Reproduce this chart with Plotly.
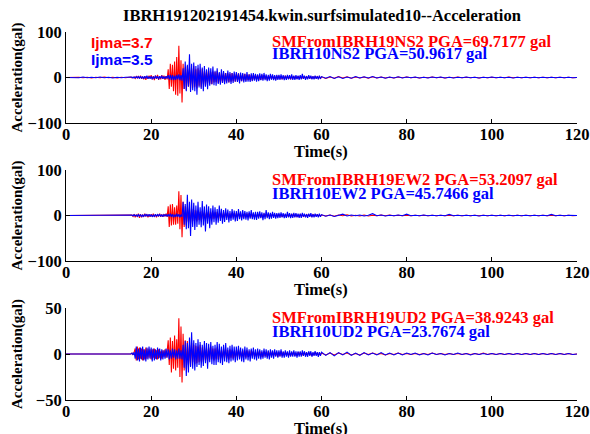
import numpy as np
import plotly.graph_objects as go

# ---------------- data (gal) ----------------
TITLE = "IBRH191202191454.kwin.surfsimulated10--Acceleration"
X_TICKS = [0, 20, 40, 60, 80, 100, 120]

# sampling grids (s): pre-event 0..14 every 1 s, main 15..59.75 every 0.25 s, tail 60..120 every 1 s
PRE_START, PRE_STEP = 0.0, 1.0
MAIN_START, MAIN_STEP = 15.0, 0.25
TAIL_START, TAIL_STEP = 60.0, 1.0

ns_red_pre = [0, 0.5, -0.5, 0.5, -0.5, 0.5, -1, 0.5, -0.5, 1, -0.5, 0.5, -1, 0.5, -0.5]
ns_red_main = [
    0, 1, -1, 0, 1, -2, 2, -1, 3, -2, 4, -3, 2, -4, 3, -5, 2, -3, 4, -2,
    5, -4, 3, -6, 4, -3, 6, -5, 3, -4, 5, -3, 4, -5, 3, -4, 18, -25, 30, -20,
    28, -30, 35, -38, 45, -40, 69.7, -35, 38, -55, 30, -25, 22, -28, 25, -20, 18, -24, 20, -22,
    25, -20, 18, -24, 20, -18, 16, -22, 19, -15, 14, -18, 16, -12, 15, -14, 12, -15, 13, -11,
    12, -10, 14, -12, 10, -11, 9, -12, 11, -9, 10, -8, 9, -11, 8, -9, 10, -8, 7, -9,
    8, -7, 9, -8, 6, -8, 7, -6, 8, -7, 6, -5, 7, -6, 5, -7, 6, -5, 6, -4,
    5, -6, 4, -5, 6, -4, 5, -3, 4, -5, 3, -4, 5, -3, 4, -4, 3, -5, 4, -3,
    4, -3, 3, -4, 2, -3, 4, -2, 3, -3, 2, -4, 3, -2, 3, -3, 2, -3, 3, -2,
    3, -2, 2, -3, 3, -2, 2, -2, 3, -2, 2, -3, 2, -2, 3, -2, 2, -2, 2, -2,
]
ns_red_tail = [
    1.5, -2, 1, -1.5, 2, -1, 1.5, -1.5, 1, -1, 1, -1.5, 1.5, -1, 1, -1, 0.5, -1, 1, -0.5,
    1, -0.5, 0.5, -1, 0.5, -0.5, 1, -0.5, 0.5, -1, 0.5, -0.5, 1, -0.5, 0.5, -0.5, 0.5, -1, 0.5, -0.5,
    0.5, -0.5, 0.5, -0.5, 1, -0.5, 0.5, -0.5, 0.5, -0.5, 0.5, -0.5, 0.5, -0.5, 0.5, -0.5, 0.5, -0.5, 0.5, -0.5, 0,
]
ns_blue_pre = [0, -0.5, 0.5, -0.5, 1, -0.5, 0.5, -0.5, 1, -0.5, 0.5, -1, 0.5, -0.5, 0.5]
ns_blue_main = [
    0, 0, 1, -1, 1, -1, 2, -1, 2, -2, 3, -2, 2, -3, 3, -2, 4, -3, 2, -3,
    3, -4, 2, -3, 4, -2, 3, -4, 3, -2, 4, -3, 2, -3, 3, -2, 5, -4, 6, -5,
    5, -6, 4, -5, 6, -4, 7, -6, 5, -7, 20, -25, 35, -30, 28, -20, 50.96, -32, 30, -28,
    33, -30, 25, -38, 28, -22, 30, -25, 22, -30, 25, -20, 18, -26, 22, -18, 20, -15, 24, -17,
    15, -18, 20, -14, 12, -16, 18, -12, 14, -15, 10, -13, 15, -11, 12, -14, 10, -12, 13, -9,
    12, -10, 9, -13, 11, -8, 10, -11, 8, -10, 12, -9, 7, -10, 9, -8, 10, -7, 8, -9,
    7, -8, 9, -6, 8, -7, 10, -6, 7, -8, 6, -7, 8, -5, 7, -6, 5, -7, 6, -5,
    6, -5, 7, -4, 5, -6, 4, -5, 6, -4, 5, -4, 7, -5, 4, -5, 5, -4, 4, -5,
    5, -4, 8, -3, 4, -5, 3, -4, 5, -3, 4, -4, 3, -4, 4, -3, 3, -4, 4, -3,
]
ns_blue_tail = [
    2, -1.5, 2, -2, 1.5, -2, 1, -1.5, 2, -1, 1.5, -1, 2, -1, 1, -1.5, 1, -1, 1.5, -1,
    1, -0.5, 1, -1, 0.5, -1, 1, -0.5, 1, -1, 0.5, -1, 0.5, -0.5, 1, -0.5, 0.5, -1, 0.5, -0.5,
    1, -0.5, 0.5, -0.5, 0.5, -1, 0.5, -0.5, 0.5, -0.5, 0.5, -0.5, 0.5, -0.5, 0.5, -0.5, 0.5, -0.5, 0.5, -0.5, 0,
]

ew_red_pre = [0] * 15
ew_red_main = [
    0, 0, 1, -2, 3, -4, 2, -3, 4, -5, 3, -4, 2, -3, 4, -2, 3, -4, 2, -3,
    3, -2, 4, -3, 2, -4, 3, -2, 4, -3, 2, -3, 3, -2, 4, -3, 20, -25, 24, -22,
    25, -20, 18, -20, 22, -18, 53.2, -30, 45, -48, 30, -25, 20, -22, 18, -15, 16, -18, 14, -12,
    12, -10, 11, -13, 9, -10, 8, -11, 10, -8, 7, -9, 8, -7, 9, -6, 7, -8, 6, -7,
    7, -6, 8, -5, 6, -7, 5, -6, 7, -5, 6, -4, 5, -6, 4, -5, 6, -4, 5, -4,
    5, -4, 6, -3, 4, -5, 3, -4, 5, -4, 4, -3, 5, -4, 3, -4, 4, -3, 3, -4,
    4, -3, 3, -4, 2, -3, 4, -2, 3, -3, 2, -3, 4, -2, 3, -2, 2, -3, 3, -2,
    3, -2, 2, -3, 2, -2, 3, -2, 2, -3, 2, -2, 3, -1, 2, -2, 2, -2, 1, -2,
    2, -1, 2, -2, 1, -2, 2, -1, 2, -1, 1, -2, 2, -1, 1, -1, 2, -1, 1, -1,
]
ew_red_tail = [
    1, -1, 1, -1.5, 1, -0.5, 1.5, -1, 0.5, -1, 1, -1, 0.5, -0.5, 1, -0.5, 1, -0.5, 0.5, -0.5,
    0.5, -0.5, 0.5, -0.5, 0.5, -0.5, 0.5, -0.5, 0.5, -0.5, 0.5, -0.5, 0.5, -0.5, 0.5, -0.5, 0.5, -0.5, 0.5, -0.5,
    0.5, -0.5, 0.5, -0.5, 0.5, -0.5, 0.5, -0.5, 0.5, -0.5, 0.5, -0.5, 0.5, -0.5, 0.5, -0.5, 0.5, -0.5, 0.5, -0.5, 0,
]
ew_blue_pre = [0] * 15
ew_blue_main = [
    0, 0, 1, -1, 2, -1, 1, -2, 3, -2, 2, -3, 1, -2, 3, -1, 2, -2, 3, -2,
    2, -3, 1, -2, 3, -2, 2, -1, 3, -2, 2, -3, 2, -1, 2, -2, 3, -2, 4, -3,
    3, -4, 2, -3, 4, -3, 3, -4, 2, -3, 30, -20, 25, -30, 45.75, -28, 30, -45, 35, -25,
    28, -32, 22, -25, 30, -20, 18, -26, 32, -22, 20, -35, 24, -18, 20, -28, 16, -20, 22, -15,
    18, -20, 14, -16, 22, -12, 15, -18, 12, -14, 16, -10, 13, -15, 10, -12, 14, -9, 11, -13,
    10, -12, 14, -8, 9, -11, 12, -8, 10, -9, 8, -11, 9, -7, 12, -8, 7, -9, 8, -10,
    8, -7, 9, -6, 7, -10, 6, -8, 12, -6, 7, -8, 6, -7, 8, -5, 6, -7, 5, -6,
    6, -5, 7, -4, 5, -6, 4, -5, 8, -4, 5, -6, 4, -5, 6, -4, 5, -4, 4, -5,
    4, -5, 6, -3, 4, -4, 3, -5, 4, -3, 5, -4, 3, -4, 4, -3, 3, -4, 4, -3,
]
ew_blue_tail = [
    2, -1.5, 1, -2, 1, 3, -1, 1, -0.5, 1, -1, 0.5, 4, -0.5, 1, -1, 0.5, -0.5, 1, -0.5,
    3, -0.5, 0.5, -0.5, 1, -0.5, 0.5, -0.5, 0.5, -0.5, 2.5, -0.5, 0.5, -0.5, 0.5, -0.5, 0.5, -1, 0.5, -0.5,
    0.5, -0.5, 0.5, -0.5, 0.5, -0.5, 0.5, -0.5, 0.5, -0.5, 0.5, -0.5, 0.5, -0.5, 2.5, -0.5, 0.5, -0.5, 0.5, -0.5, 0,
]

ud_red_pre = [0] * 15
ud_red_main = [
    0, 0, 1, -1, 2, 6, -7, 8, -6, 7, -5, 6, -7, 5, -6, 7, -5, 6, -4, 5,
    -6, 5, -4, 6, -5, 4, -6, 5, -4, 3, -5, 4, -3, 5, -4, 3, 15, -12, 18, -20,
    14, -16, 20, -18, 16, -15, 38.92, -25, 30, -31, 22, -18, 15, -16, 14, -12, 10, -13, 12, -9,
    10, -11, 9, -10, 8, -9, 10, -8, 7, -9, 8, -7, 6, -8, 7, -6, 8, -5, 6, -7,
    6, -5, 7, -6, 5, -6, 4, -5, 6, -4, 5, -5, 4, -6, 5, -4, 4, -5, 3, -4,
    4, -3, 5, -4, 3, -4, 4, -3, 3, -4, 4, -3, 3, -3, 4, -2, 3, -3, 2, -3,
    3, -2, 3, -3, 2, -3, 3, -2, 2, -3, 3, -2, 2, -2, 3, -2, 2, -2, 2, -3,
    2, -2, 3, -2, 2, -2, 2, -1, 2, -2, 1, -2, 2, -1, 2, -2, 1, -2, 2, -1,
    2, -1, 1, -2, 2, -1, 1, -1, 2, -1, 1, -2, 1, -1, 2, -1, 1, -1, 1, -1,
]
ud_red_tail = [
    1, -1, 1, -1, 1, -0.5, 1, -1, 0.5, -1, 1, -0.5, 1, -0.5, 0.5, -1, 0.5, -0.5, 1, -0.5,
    0.5, -0.5, 0.5, -0.5, 0.5, -0.5, 1, -0.5, 0.5, -0.5, 0.5, -0.5, 0.5, -0.5, 0.5, -0.5, 0.5, -0.5, 1, -0.5,
    0.5, -0.5, 0.5, -0.5, 0.5, -0.5, 0.5, -0.5, 0.5, -0.5, 0.5, -0.5, 0.5, -0.5, 0.5, -0.5, 0.5, -0.5, 0.5, -0.5, 0,
]
ud_blue_pre = [0] * 15
ud_blue_main = [
    0, 0, 1, -1, 2, -5, 8, -7, 6, -8, 7, -6, 8, -7, 5, -8, 7, -6, 8, -5,
    7, -8, 6, -7, 5, -6, 7, -5, 6, -7, 5, -6, 4, -5, 6, -4, 5, -6, 4, -5,
    6, -4, 5, -6, 4, -5, 6, -5, 4, -6, 10, -15, 14, -23.77, 12, -20, 18, -14, 23.5, -16,
    15, -18, 12, -14, 16, -12, 13, -15, 10, -13, 14, -10, 12, -16, 11, -9, 13, -11, 9, -12,
    10, -12, 13, -9, 11, -10, 8, -12, 10, -8, 12, -9, 7, -10, 9, -8, 10, -7, 8, -9,
    8, -7, 9, -6, 7, -8, 6, -9, 8, -6, 7, -7, 5, -8, 6, -5, 7, -6, 5, -7,
    6, -5, 5, -6, 4, -5, 6, -4, 5, -5, 4, -6, 5, -4, 4, -5, 5, -3, 4, -4,
    4, -3, 5, -4, 3, -4, 4, -3, 3, -4, 4, -3, 3, -3, 4, -3, 3, -4, 3, -3,
    3, -3, 4, -2, 3, -3, 2, -3, 3, -2, 3, -3, 2, -2, 3, -2, 2, -3, 2, -2,
]
ud_blue_tail = [
    2, -1.5, 1.5, -2, 1.5, -1, 2, -1.5, 1, -1.5, 1.5, -1, 1, -1, 1.5, -1, 1, -1, 1, -1,
    1, -0.5, 1, -1, 0.5, -1, 1, -0.5, 0.5, -1, 0.5, -0.5, 1, -0.5, 0.5, -1, 0.5, -0.5, 0.5, -0.5,
    0.5, -0.5, 0.5, -0.5, 0.5, -0.5, 0.5, -0.5, 0.5, -0.5, 0.5, -0.5, 0.5, -0.5, 0.5, -0.5, 0.5, -0.5, 0.5, -0.5, 0,
]

red_labels = ["SMFromIBRH19NS2 PGA=69.7177 gal",
              "SMFromIBRH19EW2 PGA=53.2097 gal",
              "SMFromIBRH19UD2 PGA=38.9243 gal"]
blue_labels = ["IBRH10NS2 PGA=50.9617 gal",
               "IBRH10EW2 PGA=45.7466 gal",
               "IBRH10UD2 PGA=23.7674 gal"]
ijma_labels = ["Ijma=3.7", "Ijma=3.5"]
y_ranges = [[-100, 100], [-100, 100], [-50, 50]]
y_ticks = [[-100, 0, 100], [-100, 0, 100], [-50, 0, 50]]

# ---------------- build ----------------
def series(pre, main, tail):
    t = np.concatenate([
        PRE_START + PRE_STEP * np.arange(len(pre)),
        MAIN_START + MAIN_STEP * np.arange(len(main)),
        TAIL_START + TAIL_STEP * np.arange(len(tail)),
    ])
    return t, np.array(list(pre) + list(main) + list(tail), dtype=float)

reds = [(ns_red_pre, ns_red_main, ns_red_tail),
        (ew_red_pre, ew_red_main, ew_red_tail),
        (ud_red_pre, ud_red_main, ud_red_tail)]
blues = [(ns_blue_pre, ns_blue_main, ns_blue_tail),
         (ew_blue_pre, ew_blue_main, ew_blue_tail),
         (ud_blue_pre, ud_blue_main, ud_blue_tail)]

# page body margin is removed (post_script), so the figure fills the window exactly
W, H = 590, 434
X0, X1 = 66, 577
panels = [(32, 123), (170, 261), (308, 400)]  # top, bottom window pixel of each axes box

RED, BLUE = "#ff0000", "#0000ff"
SERIF = "Liberation Serif"
SANS = "Liberation Sans"
FS = 16.5

fig = go.Figure()
layout = dict(width=W, height=H, margin=dict(l=0, r=0, t=0, b=0, autoexpand=False),
              paper_bgcolor="white", plot_bgcolor="white", showlegend=False)
annotations = []

def px(x):
    return x / W

def py(y):
    return 1 - y / H

for k in range(3):
    sfx = "" if k == 0 else str(k + 1)
    xa, ya = "x" + sfx, "y" + sfx
    top, bot = panels[k]
    for (pre, main, tail), col in ((reds[k], RED), (blues[k], BLUE)):
        t, a = series(pre, main, tail)
        fig.add_trace(go.Scatter(x=t, y=a, mode="lines", xaxis=xa, yaxis=ya,
                                 line=dict(color=col, width=1.1), hoverinfo="skip"))
    common = dict(showline=True, linecolor="black", linewidth=1, showgrid=False,
                  zeroline=False, ticks="inside", ticklen=4, tickcolor="black",
                  automargin=False,
                  tickfont=dict(family=SERIF, size=FS, color="black", weight="bold"))
    layout["xaxis" + sfx] = dict(domain=[px(X0), px(X1)], range=[0, 120], anchor=ya,
                                 tickvals=X_TICKS, ticklabelstandoff=-4, **common)
    layout["yaxis" + sfx] = dict(domain=[py(bot), py(top)], range=y_ranges[k], anchor=xa,
                                 tickvals=y_ticks[k], **common)
    # legend-like texts
    annotations.append(dict(text=red_labels[k], x=px(270), y=py(top + 9.5), xref="paper", yref="paper",
                            xanchor="left", yanchor="middle", showarrow=False,
                            font=dict(family=SERIF, size=FS, color=RED, weight="bold")))
    annotations.append(dict(text=blue_labels[k], x=px(270), y=py(top + (21.5 if k == 0 else 23.5)),
                            xref="paper", yref="paper",
                            xanchor="left", yanchor="middle", showarrow=False,
                            font=dict(family=SERIF, size=FS, color=BLUE, weight="bold")))
    # axis titles
    annotations.append(dict(text="Time(s)", x=px(321), y=py(bot + 28.5), xref="paper", yref="paper",
                            xanchor="center", yanchor="middle", showarrow=False,
                            font=dict(family=SERIF, size=FS, color="black", weight="bold")))
    annotations.append(dict(text="Acceleration(gal)", x=px(17), y=py((top + bot) / 2), xref="paper",
                            yref="paper", xanchor="center", yanchor="middle", showarrow=False,
                            textangle=-90,
                            font=dict(family=SERIF, size=15, color="black", weight="bold")))

annotations.append(dict(text=TITLE, x=px(321.5), y=py(15), xref="paper", yref="paper",
                        xanchor="center", yanchor="middle", showarrow=False,
                        font=dict(family=SERIF, size=FS, color="black", weight="bold")))
annotations.append(dict(text=ijma_labels[0], x=px(89), y=py(42.5), xref="paper", yref="paper",
                        xanchor="left", yanchor="middle", showarrow=False,
                        font=dict(family=SANS, size=15.5, color=RED, weight="bold")))
annotations.append(dict(text=ijma_labels[1], x=px(89), y=py(59.5), xref="paper", yref="paper",
                        xanchor="left", yanchor="middle", showarrow=False,
                        font=dict(family=SANS, size=15.5, color=BLUE, weight="bold")))

layout["annotations"] = annotations
fig.update_layout(**layout)
fig.write_html("out.html", config={"displayModeBar": False},
               post_script="document.body.style.margin='0px';document.body.style.overflow='hidden';")
